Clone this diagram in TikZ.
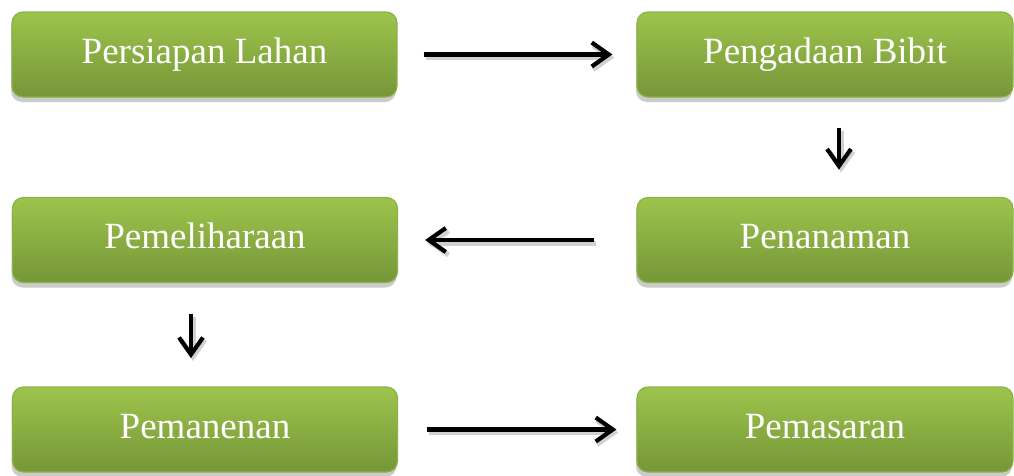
\documentclass[tikz,border=0pt]{standalone}
\usepackage{fontspec}
\setmainfont{Liberation Serif}
\usetikzlibrary{arrows.meta,shadows}

\definecolor{leafTop}{RGB}{157,196,76}
\definecolor{leafBot}{RGB}{118,150,56}
\definecolor{leafLine}{RGB}{140,178,70}

\tikzset{every picture/.style={line width=1pt}}
\tikzset{
  stepnode/.style={rectangle, rounded corners=11pt, draw=leafLine, line width=1.2pt,
    top color=leafTop, bottom color=leafBot, text=white, inner sep=0pt,
    font=\fontsize{37}{40}\selectfont, text height=25pt, text depth=8pt,
    minimum height=85pt,
    drop shadow={shadow xshift=-1pt, shadow yshift=-5pt, fill=black!45, opacity=0.45}},
  flow/.style={line width=4.2pt, -{Straight Barb[length=17pt,width=24pt]},
    preaction={draw=black!18, line width=5pt, transform canvas={xshift=2pt,yshift=-3pt}}}
}

\begin{document}
\begin{tikzpicture}[x=1pt,y=1pt,yscale=-1,xscale=1]
%uncomment if require: \path (0,475); %set diagram left start at 0, and has height of 475
\useasboundingbox (0,0) rectangle (1014,475);

% Text Node
\node [stepnode, minimum width=385pt] (lahan) at (204.5,54.5) {Persiapan Lahan};
% Text Node
\node [stepnode, minimum width=376pt] (bibit) at (825,54.5) {Pengadaan Bibit};
% Text Node
\node [stepnode, minimum width=376pt] (tanam) at (825,240) {Penanaman};
% Text Node
\node [stepnode, minimum width=385pt] (pelihara) at (205,240) {Pemeliharaan};
% Text Node
\node [stepnode, minimum width=385pt] (panen) at (205,429.5) {Pemanenan};
% Text Node
\node [stepnode, minimum width=376pt] (pasar) at (825,429.5) {Pemasaran};

%Straight Lines
\draw [flow] ([xshift=26pt]lahan.east) -- ([xshift=-24pt]bibit.west);
%Straight Lines
\draw [flow] ([xshift=14pt,yshift=30pt]bibit.south) -- ([xshift=14pt,yshift=72pt]bibit.south);
%Straight Lines
\draw [flow] ([xshift=-42pt]tanam.west) -- ([xshift=27pt]pelihara.east);
%Straight Lines
\draw [flow] ([xshift=-14pt,yshift=31pt]pelihara.south) -- ([xshift=-14pt,yshift=75pt]pelihara.south);
%Straight Lines
\draw [flow] ([xshift=29pt]panen.east) -- ([xshift=-20pt]pasar.west);

\end{tikzpicture}
\end{document}
